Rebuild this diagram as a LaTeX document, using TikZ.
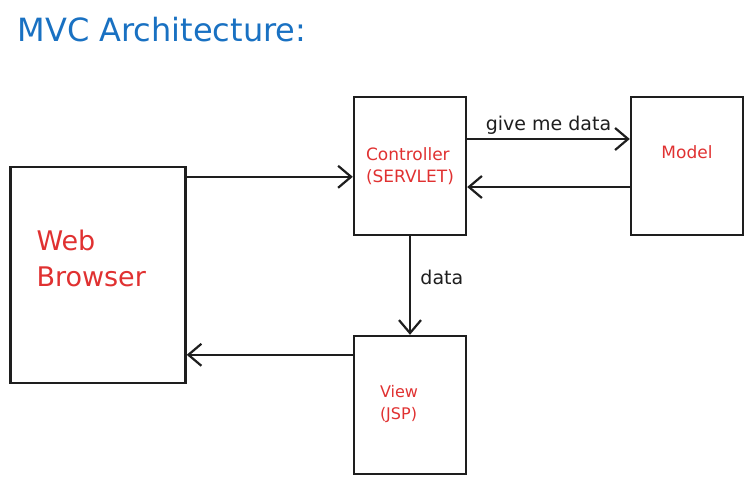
\documentclass[tikz,border=0pt]{standalone}
\usepackage{fontspec}
\setmainfont{DejaVu Sans}
\usetikzlibrary{arrows.meta}
\definecolor{ink}{HTML}{1E1E1E}
\definecolor{titleblue}{HTML}{1971C2}
\definecolor{labelred}{HTML}{E03131}
\begin{document}
\begin{tikzpicture}[x=1pt, y=1pt,
box/.style={draw=ink, line width=2.4pt, inner sep=0pt, text=labelred, align=left},
boxtext/.style={anchor=north west, inner sep=0pt, text=labelred, align=left},
arr/.style={draw=ink, line width=2.2pt, -{Straight Barb[length=13pt, width=22pt, line width=2.2pt]}},
lbl/.style={text=ink, font=\fontsize{19}{22}\selectfont}]
\useasboundingbox (0,0) rectangle (752,-483);
\node[anchor=west, text=titleblue, font=\fontsize{32}{36}\selectfont] (title) at (14,-30) {MVC Architecture:};
\node[box, minimum width=175pt, minimum height=216pt] (browser) at (98,-275) {};
\node[boxtext, font=\fontsize{27}{36}\selectfont] (browsertext) at ([xshift=27pt, yshift=-64pt]browser.north west) {Web\\Browser};
\node[box, minimum width=112pt, minimum height=138pt, font=\fontsize{17}{22}\selectfont] (controller) at (410,-166) {Controller\\(SERVLET)};
\node[box, minimum width=112pt, minimum height=138pt, font=\fontsize{17}{22}\selectfont] (model) at (687,-166) {Model\\\strut};
\node[box, minimum width=112pt, minimum height=138pt] (view) at (410,-405) {};
\node[boxtext, font=\fontsize{16}{22}\selectfont] (viewtext) at ([xshift=27pt, yshift=-50pt]view.north west) {View\\(JSP)};
\draw[arr] ([yshift=-11pt]browser.north east) -- ([yshift=-11pt]browser.north east -| controller.west);
\draw[arr] ([yshift=27pt]controller.east) -- ([yshift=27pt]model.west) node[lbl, midway, above] {give me data};
\draw[arr] ([yshift=-21pt]model.west) -- ([yshift=-21pt]controller.east);
\draw[arr] (controller.south) -- (view.north) node[lbl, midway, right, xshift=6pt, yshift=8pt] {data};
\draw[arr] ([yshift=-20pt]view.north west) -- ([yshift=-20pt]view.north west -| browser.east);
\end{tikzpicture}
\end{document}
